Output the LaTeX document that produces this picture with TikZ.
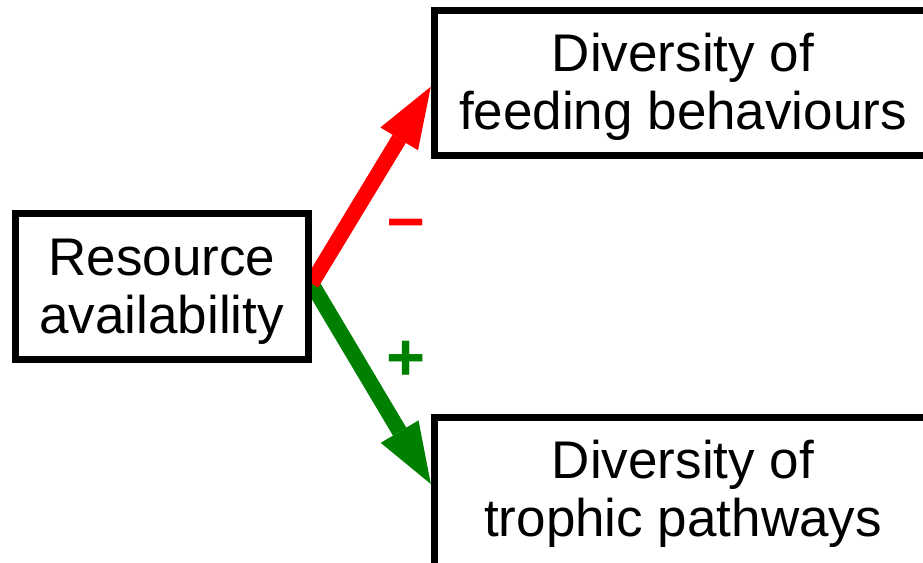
\documentclass[tikz,border=0pt]{standalone}
\usepackage{fontspec}
\setmainfont{Liberation Sans}
\usetikzlibrary{arrows.meta,backgrounds}
\definecolor{posgreen}{RGB}{0,128,0}
\definecolor{negred}{RGB}{255,0,0}
\begin{document}
\begin{tikzpicture}[x=1pt,y=-1pt,
  box/.style={draw=black,line width=7pt,fill=white,inner sep=0pt,align=center,
    font=\fontsize{53}{58}\selectfont},
  effect/.style={line width=15.5pt,-{Triangle[length=61pt,width=44pt,line width=0pt]}},
  sign/.style={font=\fontsize{67}{67}\selectfont\bfseries,inner sep=0pt,anchor=base}]
\useasboundingbox (0,0) rectangle (923,562);
\clip (0,0) rectangle (923,562);
% the three variables
\node[box,minimum width=292.5pt,minimum height=146pt] (res) at (161.75,286.25)
  {\rule{0pt}{47pt}Resource\\availability};
\node[box,minimum width=497.4pt,minimum height=145pt] (feed) at (683,82.8)
  {\rule{0pt}{46pt}Diversity of\\feeding behaviours};
\node[box,minimum width=497.4pt,minimum height=158pt] (troph) at (683,496)
  {\rule{0pt}{47pt}Diversity of\\trophic pathways\rule[-24.4pt]{0pt}{24.4pt}};
% effects, drawn behind the box borders
\begin{scope}[on background layer]
  \draw[effect,posgreen] ([yshift=2.75pt]res.east) -- ([yshift=-70.5pt]troph.north west);
  \draw[effect,negred] ([yshift=2.75pt]res.east) -- ([yshift=-3.9pt]feed.west);
\end{scope}
% signs of the effects
\node[sign,text=negred] (minus) at (406,240.5) {\textendash};
\node[sign,text=posgreen] (plus) at (406,380.9) {+};
\end{tikzpicture}
\end{document}
